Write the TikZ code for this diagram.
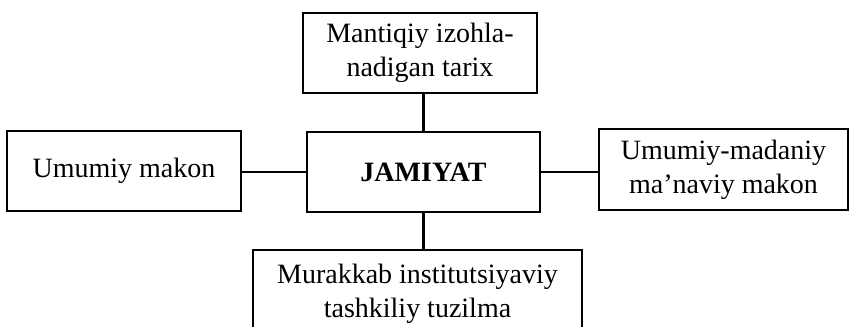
\documentclass[tikz,border=0pt]{standalone}
\usepackage{fontspec}
\setmainfont{Liberation Serif}
\usepackage{tikz}

\tikzset{
  box/.style={draw, line width=1.7pt, align=center, inner sep=0pt, font=\fontsize{21}{25.5}\selectfont},
  link/.style={line width=1.7pt},
}

\begin{document}
\begin{tikzpicture}[x=0.75pt, y=-0.75pt]
            \useasboundingbox (0,0) rectangle (849,327);

            % boxes
            \node[box, minimum width=174.75pt, minimum height=60pt] (mid) at (423.5,172) {\textbf{JAMIYAT}};
            \node[box, minimum width=175.5pt, minimum height=60pt] (top) at (420,53) {Mantiqiy izohla-\\nadigan tarix};
            \node[box, minimum width=175.5pt, minimum height=60pt] (left) at (124,171) {Umumiy makon};
            \node[box, minimum width=186.75pt, minimum height=60.75pt] (right) at (723.5,169.5) {Umumiy-madaniy\\ma'naviy makon};
            \node[box, minimum width=246.75pt, minimum height=66pt] (bot) at (417.5,294) {Murakkab institutsiyaviy\\tashkiliy tuzilma};

            % links
            \draw[link] (mid.north) -- (mid.north |- top.south);
            \draw[link] (mid.west) -- (mid.west -| left.east);
            \draw[link] (mid.east) -- (mid.east -| right.west);
            \draw[link] (mid.south) -- (mid.south |- bot.north);
        \end{tikzpicture}
\end{document}
